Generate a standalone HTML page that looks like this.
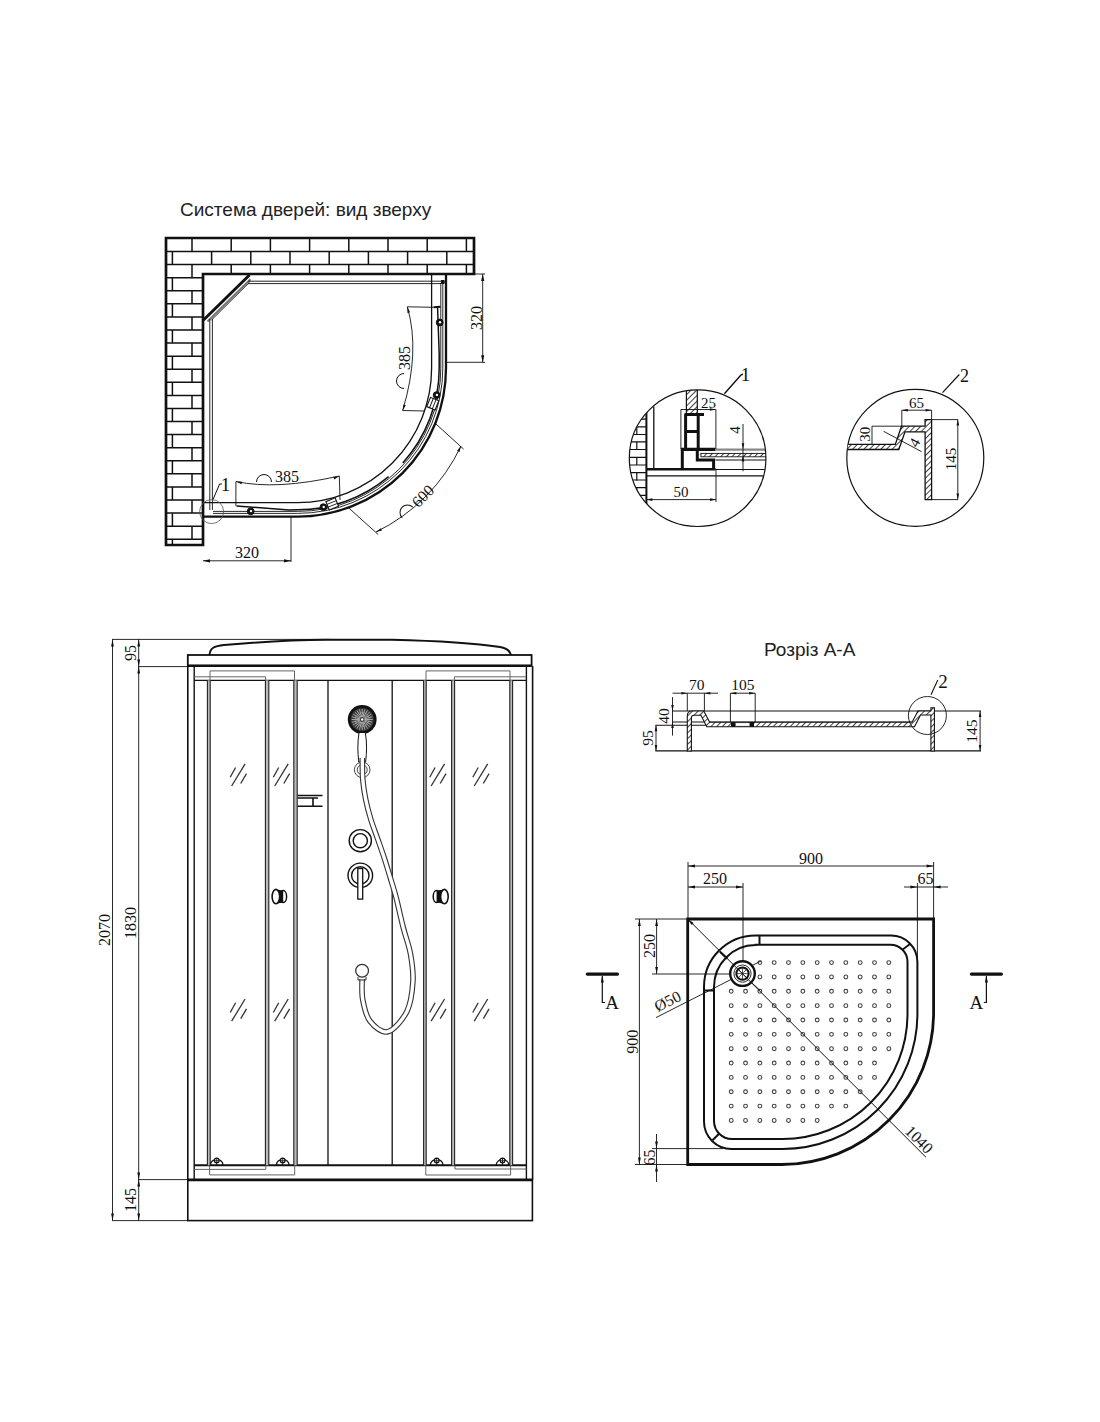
<!DOCTYPE html>
<html><head><meta charset="utf-8"><style>
html,body{margin:0;padding:0;background:#fff;}
svg{display:block;}
</style></head><body>
<svg width="1100" height="1422" viewBox="0 0 1100 1422">
<rect width="1100" height="1422" fill="#fff"/>
<text x="180.00" y="216.00" font-family="'Liberation Sans', sans-serif" font-size="19" text-anchor="start" fill="#222">Система дверей: вид зверху</text>
<line x1="166.00" y1="251.50" x2="474.00" y2="251.50" stroke="#111" stroke-width="1.5" />
<line x1="166.00" y1="264.60" x2="474.00" y2="264.60" stroke="#111" stroke-width="1.5" />
<line x1="166.00" y1="277.66" x2="203.00" y2="277.66" stroke="#111" stroke-width="1.5" />
<line x1="166.00" y1="290.74" x2="203.00" y2="290.74" stroke="#111" stroke-width="1.5" />
<line x1="166.00" y1="303.82" x2="203.00" y2="303.82" stroke="#111" stroke-width="1.5" />
<line x1="166.00" y1="316.90" x2="203.00" y2="316.90" stroke="#111" stroke-width="1.5" />
<line x1="166.00" y1="329.98" x2="203.00" y2="329.98" stroke="#111" stroke-width="1.5" />
<line x1="166.00" y1="343.06" x2="203.00" y2="343.06" stroke="#111" stroke-width="1.5" />
<line x1="166.00" y1="356.14" x2="203.00" y2="356.14" stroke="#111" stroke-width="1.5" />
<line x1="166.00" y1="369.22" x2="203.00" y2="369.22" stroke="#111" stroke-width="1.5" />
<line x1="166.00" y1="382.30" x2="203.00" y2="382.30" stroke="#111" stroke-width="1.5" />
<line x1="166.00" y1="395.38" x2="203.00" y2="395.38" stroke="#111" stroke-width="1.5" />
<line x1="166.00" y1="408.46" x2="203.00" y2="408.46" stroke="#111" stroke-width="1.5" />
<line x1="166.00" y1="421.54" x2="203.00" y2="421.54" stroke="#111" stroke-width="1.5" />
<line x1="166.00" y1="434.62" x2="203.00" y2="434.62" stroke="#111" stroke-width="1.5" />
<line x1="166.00" y1="447.70" x2="203.00" y2="447.70" stroke="#111" stroke-width="1.5" />
<line x1="166.00" y1="460.78" x2="203.00" y2="460.78" stroke="#111" stroke-width="1.5" />
<line x1="166.00" y1="473.86" x2="203.00" y2="473.86" stroke="#111" stroke-width="1.5" />
<line x1="166.00" y1="486.94" x2="203.00" y2="486.94" stroke="#111" stroke-width="1.5" />
<line x1="166.00" y1="500.02" x2="203.00" y2="500.02" stroke="#111" stroke-width="1.5" />
<line x1="166.00" y1="513.10" x2="203.00" y2="513.10" stroke="#111" stroke-width="1.5" />
<line x1="166.00" y1="526.18" x2="203.00" y2="526.18" stroke="#111" stroke-width="1.5" />
<line x1="166.00" y1="539.26" x2="203.00" y2="539.26" stroke="#111" stroke-width="1.5" />
<line x1="192.00" y1="238.00" x2="192.00" y2="251.50" stroke="#111" stroke-width="1.5" />
<line x1="231.20" y1="238.00" x2="231.20" y2="251.50" stroke="#111" stroke-width="1.5" />
<line x1="270.40" y1="238.00" x2="270.40" y2="251.50" stroke="#111" stroke-width="1.5" />
<line x1="309.60" y1="238.00" x2="309.60" y2="251.50" stroke="#111" stroke-width="1.5" />
<line x1="348.80" y1="238.00" x2="348.80" y2="251.50" stroke="#111" stroke-width="1.5" />
<line x1="388.00" y1="238.00" x2="388.00" y2="251.50" stroke="#111" stroke-width="1.5" />
<line x1="427.20" y1="238.00" x2="427.20" y2="251.50" stroke="#111" stroke-width="1.5" />
<line x1="466.40" y1="238.00" x2="466.40" y2="251.50" stroke="#111" stroke-width="1.5" />
<line x1="172.40" y1="251.50" x2="172.40" y2="264.60" stroke="#111" stroke-width="1.5" />
<line x1="211.60" y1="251.50" x2="211.60" y2="264.60" stroke="#111" stroke-width="1.5" />
<line x1="250.80" y1="251.50" x2="250.80" y2="264.60" stroke="#111" stroke-width="1.5" />
<line x1="290.00" y1="251.50" x2="290.00" y2="264.60" stroke="#111" stroke-width="1.5" />
<line x1="329.20" y1="251.50" x2="329.20" y2="264.60" stroke="#111" stroke-width="1.5" />
<line x1="368.40" y1="251.50" x2="368.40" y2="264.60" stroke="#111" stroke-width="1.5" />
<line x1="407.60" y1="251.50" x2="407.60" y2="264.60" stroke="#111" stroke-width="1.5" />
<line x1="446.80" y1="251.50" x2="446.80" y2="264.60" stroke="#111" stroke-width="1.5" />
<line x1="192.00" y1="264.60" x2="192.00" y2="274.00" stroke="#111" stroke-width="1.5" />
<line x1="231.20" y1="264.60" x2="231.20" y2="274.00" stroke="#111" stroke-width="1.5" />
<line x1="270.40" y1="264.60" x2="270.40" y2="274.00" stroke="#111" stroke-width="1.5" />
<line x1="309.60" y1="264.60" x2="309.60" y2="274.00" stroke="#111" stroke-width="1.5" />
<line x1="348.80" y1="264.60" x2="348.80" y2="274.00" stroke="#111" stroke-width="1.5" />
<line x1="388.00" y1="264.60" x2="388.00" y2="274.00" stroke="#111" stroke-width="1.5" />
<line x1="427.20" y1="264.60" x2="427.20" y2="274.00" stroke="#111" stroke-width="1.5" />
<line x1="466.40" y1="264.60" x2="466.40" y2="274.00" stroke="#111" stroke-width="1.5" />
<line x1="192.00" y1="274.00" x2="192.00" y2="277.66" stroke="#111" stroke-width="1.5" />
<line x1="172.40" y1="277.66" x2="172.40" y2="290.74" stroke="#111" stroke-width="1.5" />
<line x1="192.00" y1="290.74" x2="192.00" y2="303.82" stroke="#111" stroke-width="1.5" />
<line x1="172.40" y1="303.82" x2="172.40" y2="316.90" stroke="#111" stroke-width="1.5" />
<line x1="192.00" y1="316.90" x2="192.00" y2="329.98" stroke="#111" stroke-width="1.5" />
<line x1="172.40" y1="329.98" x2="172.40" y2="343.06" stroke="#111" stroke-width="1.5" />
<line x1="192.00" y1="343.06" x2="192.00" y2="356.14" stroke="#111" stroke-width="1.5" />
<line x1="172.40" y1="356.14" x2="172.40" y2="369.22" stroke="#111" stroke-width="1.5" />
<line x1="192.00" y1="369.22" x2="192.00" y2="382.30" stroke="#111" stroke-width="1.5" />
<line x1="172.40" y1="382.30" x2="172.40" y2="395.38" stroke="#111" stroke-width="1.5" />
<line x1="192.00" y1="395.38" x2="192.00" y2="408.46" stroke="#111" stroke-width="1.5" />
<line x1="172.40" y1="408.46" x2="172.40" y2="421.54" stroke="#111" stroke-width="1.5" />
<line x1="192.00" y1="421.54" x2="192.00" y2="434.62" stroke="#111" stroke-width="1.5" />
<line x1="172.40" y1="434.62" x2="172.40" y2="447.70" stroke="#111" stroke-width="1.5" />
<line x1="192.00" y1="447.70" x2="192.00" y2="460.78" stroke="#111" stroke-width="1.5" />
<line x1="172.40" y1="460.78" x2="172.40" y2="473.86" stroke="#111" stroke-width="1.5" />
<line x1="192.00" y1="473.86" x2="192.00" y2="486.94" stroke="#111" stroke-width="1.5" />
<line x1="172.40" y1="486.94" x2="172.40" y2="500.02" stroke="#111" stroke-width="1.5" />
<line x1="192.00" y1="500.02" x2="192.00" y2="513.10" stroke="#111" stroke-width="1.5" />
<line x1="172.40" y1="513.10" x2="172.40" y2="526.18" stroke="#111" stroke-width="1.5" />
<line x1="192.00" y1="526.18" x2="192.00" y2="539.26" stroke="#111" stroke-width="1.5" />
<line x1="172.40" y1="539.26" x2="172.40" y2="545.00" stroke="#111" stroke-width="1.5" />
<path d="M166 545 L166 238 L474 238 L474 274 L203 274 L203 545 Z" stroke="#111" stroke-width="2.7" fill="none" />
<path d="M446 274 L446 368.10 A148.5 148.5 0 0 1 297.50 516.6 L203 516.6" stroke="#111" stroke-width="2.3" fill="none" />
<line x1="249.50" y1="275.00" x2="203.50" y2="320.00" stroke="#111" stroke-width="3.0" />
<line x1="250.50" y1="279.20" x2="207.50" y2="321.50" stroke="#777" stroke-width="2.2" />
<line x1="249.50" y1="282.30" x2="211.50" y2="320.00" stroke="#111" stroke-width="0.9" />
<path d="M248 281.2 L441 281.2" stroke="#111" stroke-width="0.9" fill="none" />
<path d="M248 283.6 L441 283.6" stroke="#111" stroke-width="0.9" fill="none" />
<path d="M209.8 319 L209.8 510" stroke="#111" stroke-width="0.9" fill="none" />
<path d="M212.4 319 L212.4 510" stroke="#111" stroke-width="0.9" fill="none" />
<path d="M431.6 274 L431.6 368.10 A134.5 134.5 0 0 1 297.50 502.6 L203 502.6" stroke="#111" stroke-width="1.3" fill="none" />
<path d="M442.80 283 L442.80 368.10 A145.3 145.3 0 0 1 297.50 513.40 L213 513.40" stroke="#111" stroke-width="0.9" fill="none" />
<path d="M440.80 283 L440.80 368.10 A143.3 143.3 0 0 1 297.50 511.40 L213 511.40" stroke="#111" stroke-width="0.9" fill="none" />
<path d="M437.6 308 L439.2 354 L439.20 368.10 A141.7 141.7 0 0 1 402.80 462.92" stroke="#111" stroke-width="1.5" fill="none" />
<line x1="433.50" y1="307.30" x2="440.50" y2="306.80" stroke="#111" stroke-width="2.0" />
<path d="M236.5 506 L289 510.1 L297.50 509.80 A141.7 141.7 0 0 0 388.58 476.65" stroke="#111" stroke-width="1.5" fill="none" />
<circle cx="250.70" cy="511.30" r="3.40" stroke="#111" stroke-width="1.0" fill="#111"/>
<circle cx="251.00" cy="511.10" r="1.20" stroke="none" stroke-width="0" fill="#fff"/>
<circle cx="323.40" cy="507.20" r="3.40" stroke="#111" stroke-width="1.0" fill="#111"/>
<circle cx="323.70" cy="507.00" r="1.20" stroke="none" stroke-width="0" fill="#fff"/>
<circle cx="439.70" cy="322.50" r="3.40" stroke="#111" stroke-width="1.0" fill="#111"/>
<circle cx="440.00" cy="322.30" r="1.20" stroke="none" stroke-width="0" fill="#fff"/>
<circle cx="436.60" cy="395.10" r="3.40" stroke="#111" stroke-width="1.0" fill="#111"/>
<circle cx="436.90" cy="394.90" r="1.20" stroke="none" stroke-width="0" fill="#fff"/>
<g transform="translate(332.2 503.9) rotate(-22)"><rect x="-5" y="-4.5" width="10" height="9" fill="#fff" stroke="#111" stroke-width="1.1"/><line x1="-5" y1="-1.5" x2="5" y2="-1.5" stroke="#111" stroke-width="0.9"/><line x1="-5" y1="1.5" x2="5" y2="1.5" stroke="#111" stroke-width="0.9"/></g>
<g transform="translate(432.8 403.7) rotate(-68)"><rect x="-5" y="-4.5" width="10" height="9" fill="#fff" stroke="#111" stroke-width="1.1"/><line x1="-5" y1="-1.5" x2="5" y2="-1.5" stroke="#111" stroke-width="0.9"/><line x1="-5" y1="1.5" x2="5" y2="1.5" stroke="#111" stroke-width="0.9"/></g>
<line x1="441.00" y1="282.00" x2="446.00" y2="282.00" stroke="#111" stroke-width="1.2" />
<rect x="441" y="280" width="3.5" height="4" fill="#111"/>
<path d="M236 481.5 Q276.35 490.25 339.3 476" stroke="#111" stroke-width="0.9" fill="none" />
<path d="M236.00 481.50 L242.14 481.69 L241.51 484.22 Z" fill="#111" stroke="none"/>
<path d="M339.30 476.00 L334.26 479.51 L333.26 477.11 Z" fill="#111" stroke="none"/>
<line x1="235.90" y1="481.50" x2="235.90" y2="506.00" stroke="#111" stroke-width="0.9" />
<line x1="339.30" y1="476.00" x2="340.00" y2="500.00" stroke="#111" stroke-width="0.9" />
<text x="287.00" y="482.00" font-family="'Liberation Serif', serif" font-size="16" text-anchor="middle" fill="#111">385</text>
<path d="M256.5 482 A7.5 7.5 0 0 1 271.5 482" stroke="#111" stroke-width="1.0" fill="none" />
<path d="M407.3 306.8 Q420.4 351.25 402.7 410.5" stroke="#111" stroke-width="0.9" fill="none" />
<path d="M407.30 306.80 L410.02 312.31 L407.49 312.94 Z" fill="#111" stroke="none"/>
<path d="M402.70 410.50 L403.36 404.40 L405.83 405.22 Z" fill="#111" stroke="none"/>
<line x1="407.30" y1="306.80" x2="433.50" y2="307.30" stroke="#111" stroke-width="0.9" />
<line x1="402.70" y1="410.50" x2="425.00" y2="411.00" stroke="#111" stroke-width="0.9" />
<text x="410.00" y="358.00" font-family="'Liberation Serif', serif" font-size="16" text-anchor="middle" fill="#111" transform="rotate(-90 410.00 358.00)">385</text>
<path d="M404 373.5 A7.5 7.5 0 0 0 404 388.5" stroke="#111" stroke-width="1.0" fill="none" />
<line x1="434.50" y1="422.70" x2="463.60" y2="449.10" stroke="#111" stroke-width="0.9" />
<line x1="349.00" y1="508.20" x2="378.20" y2="534.50" stroke="#111" stroke-width="0.9" />
<path d="M461 446 A181.5 181.5 0 0 1 376 532" stroke="#111" stroke-width="0.9" fill="none" />
<path d="M461.00 446.00 L459.48 451.95 L457.15 450.79 Z" fill="#111" stroke="none"/>
<path d="M376.00 532.00 L380.79 528.15 L381.95 530.48 Z" fill="#111" stroke="none"/>
<text x="426.70" y="499.90" font-family="'Liberation Serif', serif" font-size="16" text-anchor="middle" fill="#111" transform="rotate(-45 426.70 499.90)">600</text>
<path d="M-7.5 0 A7.5 7.5 0 0 1 7.5 0" transform="translate(407.5 512.5) rotate(-45)" fill="none" stroke="#111" stroke-width="1.0"/>
<circle cx="211.60" cy="511.60" r="12.00" stroke="#555" stroke-width="0.8" fill="none"/>
<line x1="213.00" y1="499.50" x2="219.60" y2="484.00" stroke="#111" stroke-width="1" />
<line x1="219.60" y1="484.00" x2="222.00" y2="484.00" stroke="#111" stroke-width="1" />
<text x="225.50" y="490.50" font-family="'Liberation Serif', serif" font-size="19" text-anchor="middle" fill="#111">1</text>
<line x1="291.00" y1="517.00" x2="291.00" y2="562.00" stroke="#111" stroke-width="0.9" />
<line x1="203.00" y1="560.80" x2="291.00" y2="560.80" stroke="#111" stroke-width="0.9" />
<path d="M203.00 560.80 L210.00 559.20 L210.00 562.40 Z" fill="#111" stroke="none"/>
<path d="M291.00 560.80 L284.00 562.40 L284.00 559.20 Z" fill="#111" stroke="none"/>
<text x="247.00" y="557.50" font-family="'Liberation Serif', serif" font-size="16" text-anchor="middle" fill="#111">320</text>
<line x1="446.00" y1="362.30" x2="485.00" y2="362.30" stroke="#111" stroke-width="0.9" />
<line x1="474.00" y1="274.00" x2="485.00" y2="274.00" stroke="#111" stroke-width="0.9" />
<line x1="482.70" y1="274.00" x2="482.70" y2="362.30" stroke="#111" stroke-width="0.9" />
<path d="M482.70 274.00 L484.30 281.00 L481.10 281.00 Z" fill="#111" stroke="none"/>
<path d="M482.70 362.30 L481.10 355.30 L484.30 355.30 Z" fill="#111" stroke="none"/>
<text x="481.50" y="318.00" font-family="'Liberation Serif', serif" font-size="16" text-anchor="middle" fill="#111" transform="rotate(-90 481.50 318.00)">320</text>
<defs><clipPath id="c1"><circle cx="697.6" cy="458.2" r="68.3"/></clipPath><clipPath id="c2"><circle cx="915.3" cy="457.8" r="68.5"/></clipPath><pattern id="h1" width="4" height="4" patternUnits="userSpaceOnUse" patternTransform="rotate(45)"><rect width="4" height="4" fill="#fff"/><line x1="0" y1="0" x2="0" y2="4" stroke="#111" stroke-width="1.6"/></pattern></defs>
<g clip-path="url(#c1)">
<line x1="620.00" y1="411.40" x2="646.40" y2="411.40" stroke="#111" stroke-width="1.2" />
<line x1="620.00" y1="419.10" x2="646.40" y2="419.10" stroke="#111" stroke-width="1.2" />
<line x1="620.00" y1="426.80" x2="646.40" y2="426.80" stroke="#111" stroke-width="1.2" />
<line x1="620.00" y1="434.50" x2="646.40" y2="434.50" stroke="#111" stroke-width="1.2" />
<line x1="620.00" y1="441.80" x2="646.40" y2="441.80" stroke="#111" stroke-width="1.2" />
<line x1="620.00" y1="449.50" x2="646.40" y2="449.50" stroke="#111" stroke-width="1.2" />
<line x1="620.00" y1="457.30" x2="646.40" y2="457.30" stroke="#111" stroke-width="1.2" />
<line x1="620.00" y1="465.00" x2="646.40" y2="465.00" stroke="#111" stroke-width="1.2" />
<line x1="620.00" y1="472.70" x2="646.40" y2="472.70" stroke="#111" stroke-width="1.2" />
<line x1="620.00" y1="480.00" x2="646.40" y2="480.00" stroke="#111" stroke-width="1.2" />
<line x1="620.00" y1="487.70" x2="646.40" y2="487.70" stroke="#111" stroke-width="1.2" />
<line x1="620.00" y1="495.40" x2="646.40" y2="495.40" stroke="#111" stroke-width="1.2" />
<line x1="620.00" y1="503.00" x2="646.40" y2="503.00" stroke="#111" stroke-width="1.2" />
<line x1="636.80" y1="426.80" x2="636.80" y2="434.50" stroke="#111" stroke-width="1.2" />
<line x1="636.80" y1="441.80" x2="636.80" y2="449.50" stroke="#111" stroke-width="1.2" />
<line x1="636.80" y1="457.30" x2="636.80" y2="465.00" stroke="#111" stroke-width="1.2" />
<line x1="636.80" y1="472.70" x2="636.80" y2="480.40" stroke="#111" stroke-width="1.2" />
<line x1="636.80" y1="488.00" x2="636.80" y2="495.70" stroke="#111" stroke-width="1.2" />
<line x1="628.00" y1="411.40" x2="628.00" y2="419.10" stroke="#111" stroke-width="1.2" />
<line x1="628.00" y1="434.50" x2="628.00" y2="442.20" stroke="#111" stroke-width="1.2" />
<line x1="628.00" y1="449.50" x2="628.00" y2="457.20" stroke="#111" stroke-width="1.2" />
<line x1="628.00" y1="465.00" x2="628.00" y2="472.70" stroke="#111" stroke-width="1.2" />
<line x1="628.00" y1="480.00" x2="628.00" y2="487.70" stroke="#111" stroke-width="1.2" />
<line x1="628.00" y1="495.40" x2="628.00" y2="503.10" stroke="#111" stroke-width="1.2" />
<line x1="646.40" y1="405.00" x2="646.40" y2="530.00" stroke="#111" stroke-width="2" />
<line x1="653.80" y1="406.40" x2="653.80" y2="468.50" stroke="#111" stroke-width="1.3" />
<line x1="646.40" y1="469.30" x2="715.50" y2="469.30" stroke="#111" stroke-width="2.6" />
<line x1="646.40" y1="475.90" x2="770.00" y2="475.90" stroke="#111" stroke-width="1.3" />
<line x1="715.50" y1="469.50" x2="770.00" y2="469.50" stroke="#111" stroke-width="1.1" />
<line x1="715.50" y1="460.00" x2="770.00" y2="460.00" stroke="#111" stroke-width="1.0" />
<rect x="686.4" y="385" width="10.9" height="29.5" fill="url(#h1)" stroke="#111" stroke-width="1.2"/>
<path d="M684.5 414.5 L704 414.5" stroke="#111" stroke-width="3" fill="none" />
<path d="M685.6 414.5 L685.6 449 M698.2 414.5 L698.2 449 M685.6 431.4 L698.2 431.4" stroke="#111" stroke-width="3" fill="none" />
<path d="M680.9 449.3 L715.5 449.3" stroke="#111" stroke-width="3.2" fill="none" />
<path d="M682.3 449 L682.3 470" stroke="#111" stroke-width="3" fill="none" />
<path d="M697.3 449 L697.3 460 L713.6 460 L713.6 470" stroke="#111" stroke-width="3" fill="none" />
<rect x="700.9" y="453.4" width="70" height="3.4" fill="url(#h1)" stroke="#111" stroke-width="0.9"/>
<line x1="715.50" y1="449.60" x2="770.00" y2="449.60" stroke="#888" stroke-width="2.4" />
</g>
<circle cx="697.60" cy="458.20" r="68.30" stroke="#111" stroke-width="1.2" fill="none"/>
<line x1="680.90" y1="409.50" x2="680.90" y2="449.00" stroke="#111" stroke-width="0.9" />
<line x1="715.90" y1="409.50" x2="715.90" y2="449.00" stroke="#111" stroke-width="0.9" />
<line x1="680.90" y1="409.50" x2="715.90" y2="409.50" stroke="#111" stroke-width="0.9" />
<path d="M715.90 409.50 L709.90 410.80 L709.90 408.20 Z" fill="#111" stroke="none"/>
<text x="708.40" y="407.50" font-family="'Liberation Serif', serif" font-size="15" text-anchor="middle" fill="#111">25</text>
<line x1="716.00" y1="469.00" x2="716.00" y2="502.00" stroke="#111" stroke-width="0.9" />
<line x1="646.40" y1="499.60" x2="716.00" y2="499.60" stroke="#111" stroke-width="0.9" />
<path d="M646.40 499.60 L652.40 498.30 L652.40 500.90 Z" fill="#111" stroke="none"/>
<path d="M716.00 499.60 L710.00 500.90 L710.00 498.30 Z" fill="#111" stroke="none"/>
<text x="681.00" y="496.50" font-family="'Liberation Serif', serif" font-size="15" text-anchor="middle" fill="#111">50</text>
<line x1="743.00" y1="424.00" x2="743.00" y2="471.30" stroke="#111" stroke-width="0.9" />
<path d="M743.00 449.30 L741.70 443.30 L744.30 443.30 Z" fill="#111" stroke="none"/>
<path d="M743.00 455.50 L744.30 461.50 L741.70 461.50 Z" fill="#111" stroke="none"/>
<text x="740.00" y="430.00" font-family="'Liberation Serif', serif" font-size="15" text-anchor="middle" fill="#111" transform="rotate(-90 740.00 430.00)">4</text>
<path d="M724.4 393.8 L740.5 375.5 Q741.5 374.3 743 374.2" stroke="#111" stroke-width="1.4" fill="none" />
<text x="745.50" y="381.30" font-family="'Liberation Serif', serif" font-size="19" text-anchor="middle" fill="#111">1</text>
<circle cx="915.30" cy="457.80" r="68.50" stroke="#111" stroke-width="1.2" fill="none"/>
<g clip-path="url(#c2)">
<path d="M840 444.4 L895.3 444.4 L901.5 426.2 L925.1 426.2 L925.1 419.6 L931.6 419.6 L931.6 499.6 L925.1 499.6 L925.1 431.8 L905 431.8 L898.8 449.5 L840 449.5 Z" fill="url(#h1)" stroke="#111" stroke-width="1.3"/>
</g>
<line x1="901.80" y1="410.20" x2="901.80" y2="426.20" stroke="#111" stroke-width="0.9" />
<line x1="931.60" y1="410.20" x2="931.60" y2="419.60" stroke="#111" stroke-width="0.9" />
<line x1="901.80" y1="410.20" x2="931.60" y2="410.20" stroke="#111" stroke-width="0.9" />
<path d="M901.80 410.20 L907.80 408.90 L907.80 411.50 Z" fill="#111" stroke="none"/>
<path d="M931.60 410.20 L925.60 411.50 L925.60 408.90 Z" fill="#111" stroke="none"/>
<text x="916.40" y="407.50" font-family="'Liberation Serif', serif" font-size="15" text-anchor="middle" fill="#111">65</text>
<line x1="931.60" y1="419.60" x2="958.00" y2="419.60" stroke="#111" stroke-width="0.9" />
<line x1="931.60" y1="499.60" x2="958.00" y2="499.60" stroke="#111" stroke-width="0.9" />
<line x1="957.80" y1="419.60" x2="957.80" y2="499.60" stroke="#111" stroke-width="0.9" />
<path d="M957.80 419.60 L959.10 425.60 L956.50 425.60 Z" fill="#111" stroke="none"/>
<path d="M957.80 499.60 L956.50 493.60 L959.10 493.60 Z" fill="#111" stroke="none"/>
<text x="956.00" y="459.00" font-family="'Liberation Serif', serif" font-size="15" text-anchor="middle" fill="#111" transform="rotate(-90 956.00 459.00)">145</text>
<line x1="872.00" y1="426.20" x2="901.50" y2="426.20" stroke="#111" stroke-width="0.9" />
<line x1="872.00" y1="426.20" x2="872.00" y2="444.40" stroke="#111" stroke-width="0.9" />
<text x="870.50" y="434.20" font-family="'Liberation Serif', serif" font-size="15" text-anchor="middle" fill="#111" transform="rotate(-90 870.50 434.20)">30</text>
<line x1="883.60" y1="431.30" x2="921.50" y2="451.60" stroke="#111" stroke-width="0.9" />
<text x="919.00" y="445.00" font-family="'Liberation Serif', serif" font-size="15" text-anchor="middle" fill="#111" transform="rotate(-62 919.00 445.00)">4</text>
<line x1="942.50" y1="392.70" x2="959.30" y2="374.50" stroke="#111" stroke-width="1.2" />
<text x="964.50" y="381.50" font-family="'Liberation Serif', serif" font-size="18" text-anchor="middle" fill="#111">2</text>
<text x="764.00" y="656.00" font-family="'Liberation Sans', sans-serif" font-size="19" text-anchor="start" fill="#222">Розріз А-А</text>
<line x1="672.50" y1="711.00" x2="981.00" y2="711.00" stroke="#111" stroke-width="1.1" />
<line x1="672.50" y1="722.00" x2="912.00" y2="722.00" stroke="#111" stroke-width="1.0" />
<line x1="655.40" y1="725.20" x2="912.00" y2="725.20" stroke="#111" stroke-width="1.1" />
<line x1="655.40" y1="750.90" x2="981.00" y2="750.90" stroke="#111" stroke-width="1.3" />
<path d="M687.3 751 L687.3 716 Q687.3 711 692 711 L703.8 711 L709.7 722.3 L912 722.3 L918 711 L930.9 711 L930.9 707.7 L934.4 707.7 L934.4 751 L930.9 751 L930.9 715 L920.5 715 L914.5 726.8 L706.8 726.8 L700.9 715.2 L694 715.2 Q691.4 715.2 691.4 718 L691.4 751 Z" fill="url(#h1)" stroke="#111" stroke-width="1.1"/>
<rect x="731" y="722" width="4.7" height="5" fill="#111"/>
<rect x="749.3" y="722" width="4.7" height="5" fill="#111"/>
<rect x="735.7" y="722.6" width="13.6" height="3.8" fill="#fff"/>
<line x1="735.70" y1="722.60" x2="749.30" y2="722.60" stroke="#111" stroke-width="0.8" />
<line x1="735.70" y1="726.40" x2="749.30" y2="726.40" stroke="#111" stroke-width="0.8" />
<line x1="687.30" y1="693.20" x2="687.30" y2="711.00" stroke="#111" stroke-width="0.9" />
<line x1="704.40" y1="693.20" x2="704.40" y2="711.00" stroke="#111" stroke-width="0.9" />
<line x1="672.50" y1="693.20" x2="718.00" y2="693.20" stroke="#111" stroke-width="0.9" />
<path d="M687.30 693.20 L681.30 694.50 L681.30 691.90 Z" fill="#111" stroke="none"/>
<path d="M704.40 693.20 L710.40 691.90 L710.40 694.50 Z" fill="#111" stroke="none"/>
<text x="696.70" y="690.00" font-family="'Liberation Serif', serif" font-size="15.5" text-anchor="middle" fill="#111">70</text>
<line x1="730.40" y1="693.20" x2="730.40" y2="722.00" stroke="#111" stroke-width="0.9" />
<line x1="755.20" y1="693.20" x2="755.20" y2="722.00" stroke="#111" stroke-width="0.9" />
<line x1="730.40" y1="693.20" x2="755.20" y2="693.20" stroke="#111" stroke-width="0.9" />
<path d="M730.40 693.20 L736.40 691.90 L736.40 694.50 Z" fill="#111" stroke="none"/>
<path d="M755.20 693.20 L749.20 694.50 L749.20 691.90 Z" fill="#111" stroke="none"/>
<text x="742.80" y="690.00" font-family="'Liberation Serif', serif" font-size="15.5" text-anchor="middle" fill="#111">105</text>
<line x1="672.50" y1="697.10" x2="672.50" y2="735.60" stroke="#111" stroke-width="0.9" />
<path d="M672.50 711.00 L671.20 705.00 L673.80 705.00 Z" fill="#111" stroke="none"/>
<path d="M672.50 722.00 L673.80 728.00 L671.20 728.00 Z" fill="#111" stroke="none"/>
<text x="669.20" y="716.00" font-family="'Liberation Serif', serif" font-size="15.5" text-anchor="middle" fill="#111" transform="rotate(-90 669.20 716.00)">40</text>
<line x1="656.00" y1="725.20" x2="656.00" y2="751.00" stroke="#111" stroke-width="0.9" />
<path d="M656.00 725.20 L657.30 731.20 L654.70 731.20 Z" fill="#111" stroke="none"/>
<path d="M656.00 751.00 L654.70 745.00 L657.30 745.00 Z" fill="#111" stroke="none"/>
<text x="653.20" y="738.00" font-family="'Liberation Serif', serif" font-size="15.5" text-anchor="middle" fill="#111" transform="rotate(-90 653.20 738.00)">95</text>
<line x1="980.10" y1="711.00" x2="980.10" y2="751.00" stroke="#111" stroke-width="0.9" />
<path d="M980.10 711.00 L981.40 717.00 L978.80 717.00 Z" fill="#111" stroke="none"/>
<path d="M980.10 751.00 L978.80 745.00 L981.40 745.00 Z" fill="#111" stroke="none"/>
<text x="977.00" y="731.00" font-family="'Liberation Serif', serif" font-size="15.5" text-anchor="middle" fill="#111" transform="rotate(-90 977.00 731.00)">145</text>
<circle cx="927.40" cy="715.50" r="19.00" stroke="#111" stroke-width="0.9" fill="none"/>
<line x1="931.00" y1="694.80" x2="937.80" y2="680.00" stroke="#111" stroke-width="1.1" />
<text x="943.00" y="688.00" font-family="'Liberation Serif', serif" font-size="19" text-anchor="middle" fill="#111">2</text>
<line x1="112.50" y1="639.40" x2="112.50" y2="1220.60" stroke="#111" stroke-width="0.9" />
<path d="M112.50 639.40 L113.90 646.40 L111.10 646.40 Z" fill="#111" stroke="none"/>
<path d="M112.50 1220.60 L111.10 1213.60 L113.90 1213.60 Z" fill="#111" stroke="none"/>
<line x1="112.00" y1="639.40" x2="330.00" y2="639.40" stroke="#111" stroke-width="0.9" />
<line x1="138.70" y1="639.40" x2="138.70" y2="1220.60" stroke="#111" stroke-width="0.9" />
<path d="M138.70 639.40 L140.10 646.40 L137.30 646.40 Z" fill="#111" stroke="none"/>
<path d="M138.70 666.60 L137.30 659.60 L140.10 659.60 Z" fill="#111" stroke="none"/>
<path d="M138.70 666.60 L140.10 673.60 L137.30 673.60 Z" fill="#111" stroke="none"/>
<path d="M138.70 1179.60 L137.30 1172.60 L140.10 1172.60 Z" fill="#111" stroke="none"/>
<path d="M138.70 1179.60 L140.10 1186.60 L137.30 1186.60 Z" fill="#111" stroke="none"/>
<path d="M138.70 1220.60 L137.30 1213.60 L140.10 1213.60 Z" fill="#111" stroke="none"/>
<line x1="138.00" y1="666.60" x2="188.00" y2="666.60" stroke="#111" stroke-width="0.9" />
<line x1="138.00" y1="1179.60" x2="188.00" y2="1179.60" stroke="#111" stroke-width="0.9" />
<line x1="112.00" y1="1220.60" x2="188.00" y2="1220.60" stroke="#111" stroke-width="0.9" />
<text x="109.50" y="930.00" font-family="'Liberation Serif', serif" font-size="16" text-anchor="middle" fill="#111" transform="rotate(-90 109.50 930.00)">2070</text>
<text x="136.00" y="923.00" font-family="'Liberation Serif', serif" font-size="16" text-anchor="middle" fill="#111" transform="rotate(-90 136.00 923.00)">1830</text>
<text x="136.00" y="653.00" font-family="'Liberation Serif', serif" font-size="16" text-anchor="middle" fill="#111" transform="rotate(-90 136.00 653.00)">95</text>
<text x="136.00" y="1200.00" font-family="'Liberation Serif', serif" font-size="16" text-anchor="middle" fill="#111" transform="rotate(-90 136.00 1200.00)">145</text>
<path d="M209.5 655 C210 648 214 646 224 645 C270 641 300 640 327 639.8 L392 639.8 C440 641 480 644 500 647 C507 648 510 651 511 655" stroke="#111" stroke-width="2.0" fill="none" />
<rect x="187.8" y="655" width="343.8" height="10.8" fill="none" stroke="#111" stroke-width="1.8"/>
<line x1="187.80" y1="665.80" x2="531.60" y2="665.80" stroke="#111" stroke-width="2.6" />
<line x1="187.80" y1="666.00" x2="187.80" y2="1179.60" stroke="#111" stroke-width="1.6" />
<line x1="194.20" y1="666.00" x2="194.20" y2="1180.00" stroke="#111" stroke-width="1.4" />
<line x1="532.60" y1="666.00" x2="532.60" y2="1179.60" stroke="#111" stroke-width="1.6" />
<line x1="526.40" y1="666.00" x2="526.40" y2="1180.00" stroke="#111" stroke-width="1.4" />
<line x1="194.20" y1="680.30" x2="526.40" y2="680.30" stroke="#111" stroke-width="1.3" />
<line x1="194.20" y1="1165.30" x2="526.40" y2="1165.30" stroke="#111" stroke-width="2.0" />
<rect x="187.8" y="1179.8" width="344.6" height="40.8" fill="none" stroke="#111" stroke-width="1.6"/>
<line x1="187.80" y1="1179.80" x2="532.40" y2="1179.80" stroke="#111" stroke-width="2.8" />
<rect x="207.40" y="680.3" width="2.80" height="485" fill="#bbb" stroke="none"/>
<line x1="207.40" y1="680.30" x2="207.40" y2="1165.30" stroke="#222" stroke-width="1.1" />
<line x1="210.20" y1="680.30" x2="210.20" y2="1165.30" stroke="#222" stroke-width="1.1" />
<rect x="265.40" y="680.3" width="3.40" height="485" fill="#bbb" stroke="none"/>
<line x1="265.40" y1="680.30" x2="265.40" y2="1165.30" stroke="#222" stroke-width="1.1" />
<line x1="268.80" y1="680.30" x2="268.80" y2="1165.30" stroke="#222" stroke-width="1.1" />
<rect x="293.80" y="680.3" width="3.40" height="485" fill="#bbb" stroke="none"/>
<line x1="293.80" y1="680.30" x2="293.80" y2="1165.30" stroke="#222" stroke-width="1.1" />
<line x1="297.20" y1="680.30" x2="297.20" y2="1165.30" stroke="#222" stroke-width="1.1" />
<rect x="423.60" y="680.3" width="2.60" height="485" fill="#bbb" stroke="none"/>
<line x1="423.60" y1="680.30" x2="423.60" y2="1165.30" stroke="#222" stroke-width="1.1" />
<line x1="426.20" y1="680.30" x2="426.20" y2="1165.30" stroke="#222" stroke-width="1.1" />
<rect x="451.60" y="680.3" width="3.00" height="485" fill="#bbb" stroke="none"/>
<line x1="451.60" y1="680.30" x2="451.60" y2="1165.30" stroke="#222" stroke-width="1.1" />
<line x1="454.60" y1="680.30" x2="454.60" y2="1165.30" stroke="#222" stroke-width="1.1" />
<rect x="509.80" y="680.3" width="2.80" height="485" fill="#bbb" stroke="none"/>
<line x1="509.80" y1="680.30" x2="509.80" y2="1165.30" stroke="#222" stroke-width="1.1" />
<line x1="512.60" y1="680.30" x2="512.60" y2="1165.30" stroke="#222" stroke-width="1.1" />
<line x1="328.00" y1="680.30" x2="328.00" y2="1165.30" stroke="#111" stroke-width="1.3" />
<line x1="392.20" y1="680.30" x2="392.20" y2="1165.30" stroke="#111" stroke-width="1.3" />
<path d="M210 680.3 L210 670.9 L294.5 670.9 L294.5 680.3" stroke="#555" stroke-width="0.9" fill="none" />
<path d="M194.2 676.8 L265.6 676.8 L265.6 680.3" stroke="#555" stroke-width="0.9" fill="none" />
<path d="M426 680.3 L426 670.9 L510 670.9 L510 680.3" stroke="#555" stroke-width="0.9" fill="none" />
<path d="M454.4 680.3 L454.4 676.8 L526.4 676.8" stroke="#555" stroke-width="0.9" fill="none" />
<path d="M194.2 1169.4 L265.8 1169.4 L265.8 1165.3" stroke="#555" stroke-width="0.9" fill="none" />
<path d="M209.6 1165.3 L209.6 1174.9 L294.7 1174.9 L294.7 1165.3" stroke="#555" stroke-width="0.9" fill="none" />
<path d="M455 1165.3 L455 1169 L526.4 1169" stroke="#555" stroke-width="0.9" fill="none" />
<path d="M425.8 1165.3 L425.8 1175 L510.6 1175 L510.6 1165.3" stroke="#555" stroke-width="0.9" fill="none" />
<path d="M210.40 1165 A6.3 5.5 0 0 1 223.00 1165 Z" stroke="#111" stroke-width="1.3" fill="#fff" />
<circle cx="216.70" cy="1160.50" r="2.40" stroke="#111" stroke-width="1.2" fill="#fff"/>
<line x1="216.70" y1="1158.00" x2="216.70" y2="1165.00" stroke="#111" stroke-width="0.9" />
<line x1="214.30" y1="1160.80" x2="219.10" y2="1160.80" stroke="#111" stroke-width="0.9" />
<path d="M276.40 1165 A6.3 5.5 0 0 1 289.00 1165 Z" stroke="#111" stroke-width="1.3" fill="#fff" />
<circle cx="282.70" cy="1160.50" r="2.40" stroke="#111" stroke-width="1.2" fill="#fff"/>
<line x1="282.70" y1="1158.00" x2="282.70" y2="1165.00" stroke="#111" stroke-width="0.9" />
<line x1="280.30" y1="1160.80" x2="285.10" y2="1160.80" stroke="#111" stroke-width="0.9" />
<path d="M430.40 1165 A6.3 5.5 0 0 1 443.00 1165 Z" stroke="#111" stroke-width="1.3" fill="#fff" />
<circle cx="436.70" cy="1160.50" r="2.40" stroke="#111" stroke-width="1.2" fill="#fff"/>
<line x1="436.70" y1="1158.00" x2="436.70" y2="1165.00" stroke="#111" stroke-width="0.9" />
<line x1="434.30" y1="1160.80" x2="439.10" y2="1160.80" stroke="#111" stroke-width="0.9" />
<path d="M496.20 1165 A6.3 5.5 0 0 1 508.80 1165 Z" stroke="#111" stroke-width="1.3" fill="#fff" />
<circle cx="502.50" cy="1160.50" r="2.40" stroke="#111" stroke-width="1.2" fill="#fff"/>
<line x1="502.50" y1="1158.00" x2="502.50" y2="1165.00" stroke="#111" stroke-width="0.9" />
<line x1="500.10" y1="1160.80" x2="504.90" y2="1160.80" stroke="#111" stroke-width="0.9" />
<line x1="230.20" y1="777.30" x2="235.60" y2="767.50" stroke="#333" stroke-width="1.3" />
<line x1="231.60" y1="786.00" x2="245.10" y2="763.80" stroke="#333" stroke-width="1.3" />
<line x1="240.70" y1="783.50" x2="246.50" y2="773.60" stroke="#333" stroke-width="1.3" />
<line x1="230.20" y1="1012.50" x2="235.60" y2="1002.70" stroke="#333" stroke-width="1.3" />
<line x1="231.60" y1="1021.20" x2="245.10" y2="999.00" stroke="#333" stroke-width="1.3" />
<line x1="240.70" y1="1018.70" x2="246.50" y2="1008.80" stroke="#333" stroke-width="1.3" />
<line x1="273.30" y1="777.30" x2="278.70" y2="767.50" stroke="#333" stroke-width="1.3" />
<line x1="274.70" y1="786.00" x2="288.20" y2="763.80" stroke="#333" stroke-width="1.3" />
<line x1="283.80" y1="783.50" x2="289.60" y2="773.60" stroke="#333" stroke-width="1.3" />
<line x1="273.30" y1="1012.50" x2="278.70" y2="1002.70" stroke="#333" stroke-width="1.3" />
<line x1="274.70" y1="1021.20" x2="288.20" y2="999.00" stroke="#333" stroke-width="1.3" />
<line x1="283.80" y1="1018.70" x2="289.60" y2="1008.80" stroke="#333" stroke-width="1.3" />
<line x1="429.70" y1="777.30" x2="435.10" y2="767.50" stroke="#333" stroke-width="1.3" />
<line x1="431.10" y1="786.00" x2="444.60" y2="763.80" stroke="#333" stroke-width="1.3" />
<line x1="440.20" y1="783.50" x2="446.00" y2="773.60" stroke="#333" stroke-width="1.3" />
<line x1="429.70" y1="1012.50" x2="435.10" y2="1002.70" stroke="#333" stroke-width="1.3" />
<line x1="431.10" y1="1021.20" x2="444.60" y2="999.00" stroke="#333" stroke-width="1.3" />
<line x1="440.20" y1="1018.70" x2="446.00" y2="1008.80" stroke="#333" stroke-width="1.3" />
<line x1="472.80" y1="777.30" x2="478.20" y2="767.50" stroke="#333" stroke-width="1.3" />
<line x1="474.20" y1="786.00" x2="487.70" y2="763.80" stroke="#333" stroke-width="1.3" />
<line x1="483.30" y1="783.50" x2="489.10" y2="773.60" stroke="#333" stroke-width="1.3" />
<line x1="472.80" y1="1012.50" x2="478.20" y2="1002.70" stroke="#333" stroke-width="1.3" />
<line x1="474.20" y1="1021.20" x2="487.70" y2="999.00" stroke="#333" stroke-width="1.3" />
<line x1="483.30" y1="1018.70" x2="489.10" y2="1008.80" stroke="#333" stroke-width="1.3" />
<ellipse cx="283.20" cy="896.6" rx="3.4" ry="6.0" fill="#fff" stroke="#111" stroke-width="1.5"/>
<path d="M275.90 889.4 L283.20 890.6 L283.20 902.6 L275.90 903.8 Z" fill="#111"/>
<ellipse cx="275.90" cy="896.6" rx="3.8" ry="7.2" fill="#fff" stroke="#111" stroke-width="1.6"/>
<ellipse cx="436.60" cy="896.6" rx="3.4" ry="6.0" fill="#fff" stroke="#111" stroke-width="1.5"/>
<path d="M444.40 889.4 L436.60 890.6 L436.60 902.6 L444.40 903.8 Z" fill="#111"/>
<ellipse cx="444.40" cy="896.6" rx="3.8" ry="7.2" fill="#fff" stroke="#111" stroke-width="1.6"/>
<path d="M297.6 795.5 L322.5 795.5 M297.6 806.2 L322.5 806.2 M297.6 798 L318 798 M313 798 L313 806" stroke="#111" stroke-width="1.6" fill="none" />
<circle cx="362.20" cy="719.50" r="13.00" stroke="#111" stroke-width="2.8" fill="#3a3a3a"/>
<line x1="364.70" y1="719.50" x2="372.70" y2="719.50" stroke="#d8d8d8" stroke-width="0.7" />
<line x1="364.61" y1="720.15" x2="372.34" y2="722.22" stroke="#d8d8d8" stroke-width="0.7" />
<line x1="364.37" y1="720.75" x2="371.29" y2="724.75" stroke="#d8d8d8" stroke-width="0.7" />
<line x1="363.97" y1="721.27" x2="369.62" y2="726.92" stroke="#d8d8d8" stroke-width="0.7" />
<line x1="363.45" y1="721.67" x2="367.45" y2="728.59" stroke="#d8d8d8" stroke-width="0.7" />
<line x1="362.85" y1="721.91" x2="364.92" y2="729.64" stroke="#d8d8d8" stroke-width="0.7" />
<line x1="362.20" y1="722.00" x2="362.20" y2="730.00" stroke="#d8d8d8" stroke-width="0.7" />
<line x1="361.55" y1="721.91" x2="359.48" y2="729.64" stroke="#d8d8d8" stroke-width="0.7" />
<line x1="360.95" y1="721.67" x2="356.95" y2="728.59" stroke="#d8d8d8" stroke-width="0.7" />
<line x1="360.43" y1="721.27" x2="354.78" y2="726.92" stroke="#d8d8d8" stroke-width="0.7" />
<line x1="360.03" y1="720.75" x2="353.11" y2="724.75" stroke="#d8d8d8" stroke-width="0.7" />
<line x1="359.79" y1="720.15" x2="352.06" y2="722.22" stroke="#d8d8d8" stroke-width="0.7" />
<line x1="359.70" y1="719.50" x2="351.70" y2="719.50" stroke="#d8d8d8" stroke-width="0.7" />
<line x1="359.79" y1="718.85" x2="352.06" y2="716.78" stroke="#d8d8d8" stroke-width="0.7" />
<line x1="360.03" y1="718.25" x2="353.11" y2="714.25" stroke="#d8d8d8" stroke-width="0.7" />
<line x1="360.43" y1="717.73" x2="354.78" y2="712.08" stroke="#d8d8d8" stroke-width="0.7" />
<line x1="360.95" y1="717.33" x2="356.95" y2="710.41" stroke="#d8d8d8" stroke-width="0.7" />
<line x1="361.55" y1="717.09" x2="359.48" y2="709.36" stroke="#d8d8d8" stroke-width="0.7" />
<line x1="362.20" y1="717.00" x2="362.20" y2="709.00" stroke="#d8d8d8" stroke-width="0.7" />
<line x1="362.85" y1="717.09" x2="364.92" y2="709.36" stroke="#d8d8d8" stroke-width="0.7" />
<line x1="363.45" y1="717.33" x2="367.45" y2="710.41" stroke="#d8d8d8" stroke-width="0.7" />
<line x1="363.97" y1="717.73" x2="369.62" y2="712.08" stroke="#d8d8d8" stroke-width="0.7" />
<line x1="364.37" y1="718.25" x2="371.29" y2="714.25" stroke="#d8d8d8" stroke-width="0.7" />
<line x1="364.61" y1="718.85" x2="372.34" y2="716.78" stroke="#d8d8d8" stroke-width="0.7" />
<circle cx="362.20" cy="719.50" r="7.00" stroke="#aaa" stroke-width="0.5" fill="none"/>
<circle cx="362.20" cy="719.50" r="1.20" stroke="#111" stroke-width="0" fill="#fff"/>
<path d="M359 733 C357.5 742 357.5 752 358.8 762 L365.6 762 C366.9 752 366.9 742 365.4 733" stroke="#111" stroke-width="1.0" fill="#fff" />
<circle cx="362.20" cy="769.80" r="7.80" stroke="#444" stroke-width="1.0" fill="none"/>
<circle cx="362.20" cy="769.80" r="5.00" stroke="#444" stroke-width="1.0" fill="none"/>
<path d="M362.30 758.00 C362.38 761.62 362.23 772.80 362.80 779.70 C363.37 786.60 364.38 792.85 365.70 799.40 C367.02 805.95 368.72 812.45 370.70 819.00 C372.68 825.55 375.32 832.13 377.60 838.70 C379.88 845.27 382.27 851.83 384.40 858.40 C386.53 864.97 388.47 871.67 390.40 878.10 C392.33 884.53 393.85 888.72 396.00 897.00 C398.15 905.28 400.88 918.30 403.30 927.80 C405.72 937.30 408.90 945.03 410.50 954.00 C412.10 962.97 413.50 972.03 412.90 981.60 C412.30 991.17 411.08 1003.05 406.90 1011.40 C402.72 1019.75 393.97 1030.10 387.80 1031.70 C381.63 1033.30 374.08 1026.37 369.90 1021.00 C365.72 1015.63 364.00 1006.50 362.70 999.50 C361.40 992.50 362.20 982.42 362.10 979.00" stroke="#333" stroke-width="5.6" fill="none" />
<path d="M362.30 758.00 C362.38 761.62 362.23 772.80 362.80 779.70 C363.37 786.60 364.38 792.85 365.70 799.40 C367.02 805.95 368.72 812.45 370.70 819.00 C372.68 825.55 375.32 832.13 377.60 838.70 C379.88 845.27 382.27 851.83 384.40 858.40 C386.53 864.97 388.47 871.67 390.40 878.10 C392.33 884.53 393.85 888.72 396.00 897.00 C398.15 905.28 400.88 918.30 403.30 927.80 C405.72 937.30 408.90 945.03 410.50 954.00 C412.10 962.97 413.50 972.03 412.90 981.60 C412.30 991.17 411.08 1003.05 406.90 1011.40 C402.72 1019.75 393.97 1030.10 387.80 1031.70 C381.63 1033.30 374.08 1026.37 369.90 1021.00 C365.72 1015.63 364.00 1006.50 362.70 999.50 C361.40 992.50 362.20 982.42 362.10 979.00" stroke="#fff" stroke-width="3.4" fill="none" />
<circle cx="362.10" cy="970.80" r="6.40" stroke="#333" stroke-width="1.3" fill="#fff"/>
<path d="M358 977 L358 980 L366 980 L366 977" stroke="#333" stroke-width="1.0" fill="none" />
<circle cx="360.30" cy="840.70" r="11.10" stroke="#111" stroke-width="1.4" fill="none"/>
<circle cx="360.30" cy="840.70" r="7.10" stroke="#111" stroke-width="1.4" fill="none"/>
<circle cx="360.30" cy="875.40" r="12.30" stroke="#111" stroke-width="1.4" fill="none"/>
<circle cx="360.30" cy="875.40" r="8.70" stroke="#111" stroke-width="1.4" fill="none"/>
<rect x="357.8" y="868.5" width="4.9" height="30.6" fill="#fff" stroke="#111" stroke-width="1.3"/>
<circle cx="759.86" cy="962.60" r="1.9" fill="none" stroke="#444" stroke-width="1.1"/>
<circle cx="774.19" cy="962.60" r="1.9" fill="none" stroke="#444" stroke-width="1.1"/>
<circle cx="788.52" cy="962.60" r="1.9" fill="none" stroke="#444" stroke-width="1.1"/>
<circle cx="802.85" cy="962.60" r="1.9" fill="none" stroke="#444" stroke-width="1.1"/>
<circle cx="817.18" cy="962.60" r="1.9" fill="none" stroke="#444" stroke-width="1.1"/>
<circle cx="831.51" cy="962.60" r="1.9" fill="none" stroke="#444" stroke-width="1.1"/>
<circle cx="845.84" cy="962.60" r="1.9" fill="none" stroke="#444" stroke-width="1.1"/>
<circle cx="860.17" cy="962.60" r="1.9" fill="none" stroke="#444" stroke-width="1.1"/>
<circle cx="874.50" cy="962.60" r="1.9" fill="none" stroke="#444" stroke-width="1.1"/>
<circle cx="888.83" cy="962.60" r="1.9" fill="none" stroke="#444" stroke-width="1.1"/>
<circle cx="759.86" cy="976.95" r="1.9" fill="none" stroke="#444" stroke-width="1.1"/>
<circle cx="774.19" cy="976.95" r="1.9" fill="none" stroke="#444" stroke-width="1.1"/>
<circle cx="788.52" cy="976.95" r="1.9" fill="none" stroke="#444" stroke-width="1.1"/>
<circle cx="802.85" cy="976.95" r="1.9" fill="none" stroke="#444" stroke-width="1.1"/>
<circle cx="817.18" cy="976.95" r="1.9" fill="none" stroke="#444" stroke-width="1.1"/>
<circle cx="831.51" cy="976.95" r="1.9" fill="none" stroke="#444" stroke-width="1.1"/>
<circle cx="845.84" cy="976.95" r="1.9" fill="none" stroke="#444" stroke-width="1.1"/>
<circle cx="860.17" cy="976.95" r="1.9" fill="none" stroke="#444" stroke-width="1.1"/>
<circle cx="874.50" cy="976.95" r="1.9" fill="none" stroke="#444" stroke-width="1.1"/>
<circle cx="888.83" cy="976.95" r="1.9" fill="none" stroke="#444" stroke-width="1.1"/>
<circle cx="731.20" cy="991.30" r="1.9" fill="none" stroke="#444" stroke-width="1.1"/>
<circle cx="745.53" cy="991.30" r="1.9" fill="none" stroke="#444" stroke-width="1.1"/>
<circle cx="759.86" cy="991.30" r="1.9" fill="none" stroke="#444" stroke-width="1.1"/>
<circle cx="774.19" cy="991.30" r="1.9" fill="none" stroke="#444" stroke-width="1.1"/>
<circle cx="788.52" cy="991.30" r="1.9" fill="none" stroke="#444" stroke-width="1.1"/>
<circle cx="802.85" cy="991.30" r="1.9" fill="none" stroke="#444" stroke-width="1.1"/>
<circle cx="817.18" cy="991.30" r="1.9" fill="none" stroke="#444" stroke-width="1.1"/>
<circle cx="831.51" cy="991.30" r="1.9" fill="none" stroke="#444" stroke-width="1.1"/>
<circle cx="845.84" cy="991.30" r="1.9" fill="none" stroke="#444" stroke-width="1.1"/>
<circle cx="860.17" cy="991.30" r="1.9" fill="none" stroke="#444" stroke-width="1.1"/>
<circle cx="874.50" cy="991.30" r="1.9" fill="none" stroke="#444" stroke-width="1.1"/>
<circle cx="888.83" cy="991.30" r="1.9" fill="none" stroke="#444" stroke-width="1.1"/>
<circle cx="731.20" cy="1005.65" r="1.9" fill="none" stroke="#444" stroke-width="1.1"/>
<circle cx="745.53" cy="1005.65" r="1.9" fill="none" stroke="#444" stroke-width="1.1"/>
<circle cx="759.86" cy="1005.65" r="1.9" fill="none" stroke="#444" stroke-width="1.1"/>
<circle cx="774.19" cy="1005.65" r="1.9" fill="none" stroke="#444" stroke-width="1.1"/>
<circle cx="788.52" cy="1005.65" r="1.9" fill="none" stroke="#444" stroke-width="1.1"/>
<circle cx="802.85" cy="1005.65" r="1.9" fill="none" stroke="#444" stroke-width="1.1"/>
<circle cx="817.18" cy="1005.65" r="1.9" fill="none" stroke="#444" stroke-width="1.1"/>
<circle cx="831.51" cy="1005.65" r="1.9" fill="none" stroke="#444" stroke-width="1.1"/>
<circle cx="845.84" cy="1005.65" r="1.9" fill="none" stroke="#444" stroke-width="1.1"/>
<circle cx="860.17" cy="1005.65" r="1.9" fill="none" stroke="#444" stroke-width="1.1"/>
<circle cx="874.50" cy="1005.65" r="1.9" fill="none" stroke="#444" stroke-width="1.1"/>
<circle cx="888.83" cy="1005.65" r="1.9" fill="none" stroke="#444" stroke-width="1.1"/>
<circle cx="731.20" cy="1020.00" r="1.9" fill="none" stroke="#444" stroke-width="1.1"/>
<circle cx="745.53" cy="1020.00" r="1.9" fill="none" stroke="#444" stroke-width="1.1"/>
<circle cx="759.86" cy="1020.00" r="1.9" fill="none" stroke="#444" stroke-width="1.1"/>
<circle cx="774.19" cy="1020.00" r="1.9" fill="none" stroke="#444" stroke-width="1.1"/>
<circle cx="788.52" cy="1020.00" r="1.9" fill="none" stroke="#444" stroke-width="1.1"/>
<circle cx="802.85" cy="1020.00" r="1.9" fill="none" stroke="#444" stroke-width="1.1"/>
<circle cx="817.18" cy="1020.00" r="1.9" fill="none" stroke="#444" stroke-width="1.1"/>
<circle cx="831.51" cy="1020.00" r="1.9" fill="none" stroke="#444" stroke-width="1.1"/>
<circle cx="845.84" cy="1020.00" r="1.9" fill="none" stroke="#444" stroke-width="1.1"/>
<circle cx="860.17" cy="1020.00" r="1.9" fill="none" stroke="#444" stroke-width="1.1"/>
<circle cx="874.50" cy="1020.00" r="1.9" fill="none" stroke="#444" stroke-width="1.1"/>
<circle cx="888.83" cy="1020.00" r="1.9" fill="none" stroke="#444" stroke-width="1.1"/>
<circle cx="731.20" cy="1034.35" r="1.9" fill="none" stroke="#444" stroke-width="1.1"/>
<circle cx="745.53" cy="1034.35" r="1.9" fill="none" stroke="#444" stroke-width="1.1"/>
<circle cx="759.86" cy="1034.35" r="1.9" fill="none" stroke="#444" stroke-width="1.1"/>
<circle cx="774.19" cy="1034.35" r="1.9" fill="none" stroke="#444" stroke-width="1.1"/>
<circle cx="788.52" cy="1034.35" r="1.9" fill="none" stroke="#444" stroke-width="1.1"/>
<circle cx="802.85" cy="1034.35" r="1.9" fill="none" stroke="#444" stroke-width="1.1"/>
<circle cx="817.18" cy="1034.35" r="1.9" fill="none" stroke="#444" stroke-width="1.1"/>
<circle cx="831.51" cy="1034.35" r="1.9" fill="none" stroke="#444" stroke-width="1.1"/>
<circle cx="845.84" cy="1034.35" r="1.9" fill="none" stroke="#444" stroke-width="1.1"/>
<circle cx="860.17" cy="1034.35" r="1.9" fill="none" stroke="#444" stroke-width="1.1"/>
<circle cx="874.50" cy="1034.35" r="1.9" fill="none" stroke="#444" stroke-width="1.1"/>
<circle cx="888.83" cy="1034.35" r="1.9" fill="none" stroke="#444" stroke-width="1.1"/>
<circle cx="731.20" cy="1048.70" r="1.9" fill="none" stroke="#444" stroke-width="1.1"/>
<circle cx="745.53" cy="1048.70" r="1.9" fill="none" stroke="#444" stroke-width="1.1"/>
<circle cx="759.86" cy="1048.70" r="1.9" fill="none" stroke="#444" stroke-width="1.1"/>
<circle cx="774.19" cy="1048.70" r="1.9" fill="none" stroke="#444" stroke-width="1.1"/>
<circle cx="788.52" cy="1048.70" r="1.9" fill="none" stroke="#444" stroke-width="1.1"/>
<circle cx="802.85" cy="1048.70" r="1.9" fill="none" stroke="#444" stroke-width="1.1"/>
<circle cx="817.18" cy="1048.70" r="1.9" fill="none" stroke="#444" stroke-width="1.1"/>
<circle cx="831.51" cy="1048.70" r="1.9" fill="none" stroke="#444" stroke-width="1.1"/>
<circle cx="845.84" cy="1048.70" r="1.9" fill="none" stroke="#444" stroke-width="1.1"/>
<circle cx="860.17" cy="1048.70" r="1.9" fill="none" stroke="#444" stroke-width="1.1"/>
<circle cx="874.50" cy="1048.70" r="1.9" fill="none" stroke="#444" stroke-width="1.1"/>
<circle cx="888.83" cy="1048.70" r="1.9" fill="none" stroke="#444" stroke-width="1.1"/>
<circle cx="731.20" cy="1063.05" r="1.9" fill="none" stroke="#444" stroke-width="1.1"/>
<circle cx="745.53" cy="1063.05" r="1.9" fill="none" stroke="#444" stroke-width="1.1"/>
<circle cx="759.86" cy="1063.05" r="1.9" fill="none" stroke="#444" stroke-width="1.1"/>
<circle cx="774.19" cy="1063.05" r="1.9" fill="none" stroke="#444" stroke-width="1.1"/>
<circle cx="788.52" cy="1063.05" r="1.9" fill="none" stroke="#444" stroke-width="1.1"/>
<circle cx="802.85" cy="1063.05" r="1.9" fill="none" stroke="#444" stroke-width="1.1"/>
<circle cx="817.18" cy="1063.05" r="1.9" fill="none" stroke="#444" stroke-width="1.1"/>
<circle cx="831.51" cy="1063.05" r="1.9" fill="none" stroke="#444" stroke-width="1.1"/>
<circle cx="845.84" cy="1063.05" r="1.9" fill="none" stroke="#444" stroke-width="1.1"/>
<circle cx="860.17" cy="1063.05" r="1.9" fill="none" stroke="#444" stroke-width="1.1"/>
<circle cx="874.50" cy="1063.05" r="1.9" fill="none" stroke="#444" stroke-width="1.1"/>
<circle cx="731.20" cy="1077.40" r="1.9" fill="none" stroke="#444" stroke-width="1.1"/>
<circle cx="745.53" cy="1077.40" r="1.9" fill="none" stroke="#444" stroke-width="1.1"/>
<circle cx="759.86" cy="1077.40" r="1.9" fill="none" stroke="#444" stroke-width="1.1"/>
<circle cx="774.19" cy="1077.40" r="1.9" fill="none" stroke="#444" stroke-width="1.1"/>
<circle cx="788.52" cy="1077.40" r="1.9" fill="none" stroke="#444" stroke-width="1.1"/>
<circle cx="802.85" cy="1077.40" r="1.9" fill="none" stroke="#444" stroke-width="1.1"/>
<circle cx="817.18" cy="1077.40" r="1.9" fill="none" stroke="#444" stroke-width="1.1"/>
<circle cx="831.51" cy="1077.40" r="1.9" fill="none" stroke="#444" stroke-width="1.1"/>
<circle cx="845.84" cy="1077.40" r="1.9" fill="none" stroke="#444" stroke-width="1.1"/>
<circle cx="860.17" cy="1077.40" r="1.9" fill="none" stroke="#444" stroke-width="1.1"/>
<circle cx="874.50" cy="1077.40" r="1.9" fill="none" stroke="#444" stroke-width="1.1"/>
<circle cx="731.20" cy="1091.75" r="1.9" fill="none" stroke="#444" stroke-width="1.1"/>
<circle cx="745.53" cy="1091.75" r="1.9" fill="none" stroke="#444" stroke-width="1.1"/>
<circle cx="759.86" cy="1091.75" r="1.9" fill="none" stroke="#444" stroke-width="1.1"/>
<circle cx="774.19" cy="1091.75" r="1.9" fill="none" stroke="#444" stroke-width="1.1"/>
<circle cx="788.52" cy="1091.75" r="1.9" fill="none" stroke="#444" stroke-width="1.1"/>
<circle cx="802.85" cy="1091.75" r="1.9" fill="none" stroke="#444" stroke-width="1.1"/>
<circle cx="817.18" cy="1091.75" r="1.9" fill="none" stroke="#444" stroke-width="1.1"/>
<circle cx="831.51" cy="1091.75" r="1.9" fill="none" stroke="#444" stroke-width="1.1"/>
<circle cx="845.84" cy="1091.75" r="1.9" fill="none" stroke="#444" stroke-width="1.1"/>
<circle cx="860.17" cy="1091.75" r="1.9" fill="none" stroke="#444" stroke-width="1.1"/>
<circle cx="731.20" cy="1106.10" r="1.9" fill="none" stroke="#444" stroke-width="1.1"/>
<circle cx="745.53" cy="1106.10" r="1.9" fill="none" stroke="#444" stroke-width="1.1"/>
<circle cx="759.86" cy="1106.10" r="1.9" fill="none" stroke="#444" stroke-width="1.1"/>
<circle cx="774.19" cy="1106.10" r="1.9" fill="none" stroke="#444" stroke-width="1.1"/>
<circle cx="788.52" cy="1106.10" r="1.9" fill="none" stroke="#444" stroke-width="1.1"/>
<circle cx="802.85" cy="1106.10" r="1.9" fill="none" stroke="#444" stroke-width="1.1"/>
<circle cx="817.18" cy="1106.10" r="1.9" fill="none" stroke="#444" stroke-width="1.1"/>
<circle cx="831.51" cy="1106.10" r="1.9" fill="none" stroke="#444" stroke-width="1.1"/>
<circle cx="845.84" cy="1106.10" r="1.9" fill="none" stroke="#444" stroke-width="1.1"/>
<circle cx="731.20" cy="1120.45" r="1.9" fill="none" stroke="#444" stroke-width="1.1"/>
<circle cx="745.53" cy="1120.45" r="1.9" fill="none" stroke="#444" stroke-width="1.1"/>
<circle cx="759.86" cy="1120.45" r="1.9" fill="none" stroke="#444" stroke-width="1.1"/>
<circle cx="774.19" cy="1120.45" r="1.9" fill="none" stroke="#444" stroke-width="1.1"/>
<circle cx="788.52" cy="1120.45" r="1.9" fill="none" stroke="#444" stroke-width="1.1"/>
<circle cx="802.85" cy="1120.45" r="1.9" fill="none" stroke="#444" stroke-width="1.1"/>
<circle cx="817.18" cy="1120.45" r="1.9" fill="none" stroke="#444" stroke-width="1.1"/>
<path d="M687.7 919 L933.6 919 L933.6 1012.5 A152 152 0 0 1 781.6 1164.5 L687.7 1164.5 Z" stroke="#111" stroke-width="2.8" fill="none" />
<path d="M755.5 935.5 L891 935.5 A26.4 26.4 0 0 1 917.4 961.9 L917.4 1014 A135 135 0 0 1 782.4 1149 L731.5 1149 A27.5 27.5 0 0 1 704 1121.5 L704 986.9 A51.5 51.5 0 0 1 755.5 935.5 Z" stroke="#111" stroke-width="2.0" fill="none" />
<path d="M755.5 944.8 L890.5 944.8 A17 17 0 0 1 907.5 961.8 L907.5 1014 A125 125 0 0 1 782.4 1139 L732 1139 A18 18 0 0 1 714 1121 L714 986.9 A41.8 41.8 0 0 1 755.5 945.1 Z" stroke="#111" stroke-width="2.0" fill="none" />
<line x1="759.50" y1="935.50" x2="759.50" y2="944.80" stroke="#111" stroke-width="2.0" />
<line x1="704.00" y1="990.50" x2="714.00" y2="990.50" stroke="#111" stroke-width="2.0" />
<line x1="720.00" y1="951.80" x2="727.30" y2="958.60" stroke="#111" stroke-width="2.2" />
<line x1="712.50" y1="1140.30" x2="718.80" y2="1134.00" stroke="#111" stroke-width="2.0" />
<line x1="902.00" y1="950.00" x2="910.00" y2="944.00" stroke="#111" stroke-width="1.8" />
<line x1="687.70" y1="919.00" x2="926.00" y2="1157.30" stroke="#111" stroke-width="1.0" />
<path d="M687.70 919.00 L693.64 922.96 L691.66 924.94 Z" fill="#111" stroke="none"/>
<circle cx="742.50" cy="973.60" r="12.30" stroke="#111" stroke-width="2.4" fill="none"/>
<circle cx="742.50" cy="973.60" r="8.60" stroke="#111" stroke-width="0.9" fill="none"/>
<circle cx="742.50" cy="973.60" r="6.20" stroke="#111" stroke-width="2.0" fill="none"/>
<line x1="742.50" y1="973.60" x2="748.00" y2="973.60" stroke="#111" stroke-width="0.7" />
<line x1="742.50" y1="973.60" x2="746.39" y2="977.49" stroke="#111" stroke-width="0.7" />
<line x1="742.50" y1="973.60" x2="742.50" y2="979.10" stroke="#111" stroke-width="0.7" />
<line x1="742.50" y1="973.60" x2="738.61" y2="977.49" stroke="#111" stroke-width="0.7" />
<line x1="742.50" y1="973.60" x2="737.00" y2="973.60" stroke="#111" stroke-width="0.7" />
<line x1="742.50" y1="973.60" x2="738.61" y2="969.71" stroke="#111" stroke-width="0.7" />
<line x1="742.50" y1="973.60" x2="742.50" y2="968.10" stroke="#111" stroke-width="0.7" />
<line x1="742.50" y1="973.60" x2="746.39" y2="969.71" stroke="#111" stroke-width="0.7" />
<line x1="751.00" y1="966.00" x2="761.00" y2="961.00" stroke="#111" stroke-width="0.9" />
<line x1="751.00" y1="982.00" x2="760.00" y2="990.50" stroke="#111" stroke-width="1.0" />
<line x1="688.00" y1="862.00" x2="688.00" y2="919.00" stroke="#111" stroke-width="0.9" />
<line x1="933.60" y1="862.00" x2="933.60" y2="919.00" stroke="#111" stroke-width="0.9" />
<line x1="688.00" y1="866.00" x2="933.60" y2="866.00" stroke="#111" stroke-width="0.9" />
<path d="M688.00 866.00 L695.00 864.60 L695.00 867.40 Z" fill="#111" stroke="none"/>
<path d="M933.60 866.00 L926.60 867.40 L926.60 864.60 Z" fill="#111" stroke="none"/>
<text x="811.00" y="864.00" font-family="'Liberation Serif', serif" font-size="16" text-anchor="middle" fill="#111">900</text>
<line x1="743.00" y1="883.00" x2="743.00" y2="961.00" stroke="#111" stroke-width="0.9" />
<line x1="688.00" y1="887.00" x2="743.00" y2="887.00" stroke="#111" stroke-width="0.9" />
<path d="M688.00 887.00 L695.00 885.60 L695.00 888.40 Z" fill="#111" stroke="none"/>
<path d="M743.00 887.00 L736.00 888.40 L736.00 885.60 Z" fill="#111" stroke="none"/>
<text x="715.00" y="884.40" font-family="'Liberation Serif', serif" font-size="16" text-anchor="middle" fill="#111">250</text>
<line x1="917.40" y1="883.00" x2="917.40" y2="962.00" stroke="#111" stroke-width="0.9" />
<line x1="904.00" y1="887.00" x2="948.00" y2="887.00" stroke="#111" stroke-width="0.9" />
<path d="M917.40 887.00 L910.40 888.40 L910.40 885.60 Z" fill="#111" stroke="none"/>
<path d="M933.60 887.00 L940.60 885.60 L940.60 888.40 Z" fill="#111" stroke="none"/>
<text x="925.60" y="884.40" font-family="'Liberation Serif', serif" font-size="16" text-anchor="middle" fill="#111">65</text>
<line x1="635.00" y1="919.00" x2="688.00" y2="919.00" stroke="#111" stroke-width="0.9" />
<line x1="635.00" y1="1164.50" x2="688.00" y2="1164.50" stroke="#111" stroke-width="0.9" />
<line x1="639.40" y1="919.00" x2="639.40" y2="1164.50" stroke="#111" stroke-width="0.9" />
<path d="M639.40 919.00 L640.80 926.00 L638.00 926.00 Z" fill="#111" stroke="none"/>
<path d="M639.40 1164.50 L638.00 1157.50 L640.80 1157.50 Z" fill="#111" stroke="none"/>
<text x="637.80" y="1041.70" font-family="'Liberation Serif', serif" font-size="16" text-anchor="middle" fill="#111" transform="rotate(-90 637.80 1041.70)">900</text>
<line x1="652.00" y1="974.00" x2="730.00" y2="974.00" stroke="#111" stroke-width="0.9" />
<line x1="656.60" y1="919.00" x2="656.60" y2="974.00" stroke="#111" stroke-width="0.9" />
<path d="M656.60 919.00 L658.00 926.00 L655.20 926.00 Z" fill="#111" stroke="none"/>
<path d="M656.60 974.00 L655.20 967.00 L658.00 967.00 Z" fill="#111" stroke="none"/>
<text x="654.50" y="946.00" font-family="'Liberation Serif', serif" font-size="16" text-anchor="middle" fill="#111" transform="rotate(-90 654.50 946.00)">250</text>
<line x1="652.00" y1="1148.60" x2="723.00" y2="1148.60" stroke="#111" stroke-width="0.9" />
<line x1="656.50" y1="1134.00" x2="656.50" y2="1182.00" stroke="#111" stroke-width="0.9" />
<path d="M656.50 1148.60 L655.10 1141.60 L657.90 1141.60 Z" fill="#111" stroke="none"/>
<path d="M656.50 1164.50 L657.90 1171.50 L655.10 1171.50 Z" fill="#111" stroke="none"/>
<text x="655.00" y="1157.60" font-family="'Liberation Serif', serif" font-size="16" text-anchor="middle" fill="#111" transform="rotate(-90 655.00 1157.60)">65</text>
<text x="915.30" y="1143.30" font-family="'Liberation Serif', serif" font-size="16" text-anchor="middle" fill="#111" transform="rotate(45 915.30 1143.30)">1040</text>
<line x1="656.00" y1="1017.60" x2="731.00" y2="979.50" stroke="#111" stroke-width="0.9" />
<text x="670.00" y="1006.00" font-family="'Liberation Serif', serif" font-size="16" text-anchor="middle" fill="#111" transform="rotate(-27 670.00 1006.00)">Ø50</text>
<line x1="587.30" y1="974.10" x2="617.50" y2="974.10" stroke="#111" stroke-width="3.2" stroke-linecap="round"/>
<path d="M602.3 976 L602.3 1002.5 L605 1002.5" stroke="#111" stroke-width="1.2" fill="none" />
<path d="M602.30 975.50 L603.80 982.50 L600.80 982.50 Z" fill="#111" stroke="none"/>
<text x="612.00" y="1009.10" font-family="'Liberation Serif', serif" font-size="19" text-anchor="middle" fill="#111">A</text>
<line x1="971.40" y1="974.10" x2="1001.40" y2="974.10" stroke="#111" stroke-width="3.2" stroke-linecap="round"/>
<path d="M986.4 976 L986.4 1002.5 L983.8 1002.5" stroke="#111" stroke-width="1.2" fill="none" />
<path d="M986.40 975.50 L987.90 982.50 L984.90 982.50 Z" fill="#111" stroke="none"/>
<text x="976.30" y="1009.10" font-family="'Liberation Serif', serif" font-size="19" text-anchor="middle" fill="#111">A</text>
</svg></body></html>
